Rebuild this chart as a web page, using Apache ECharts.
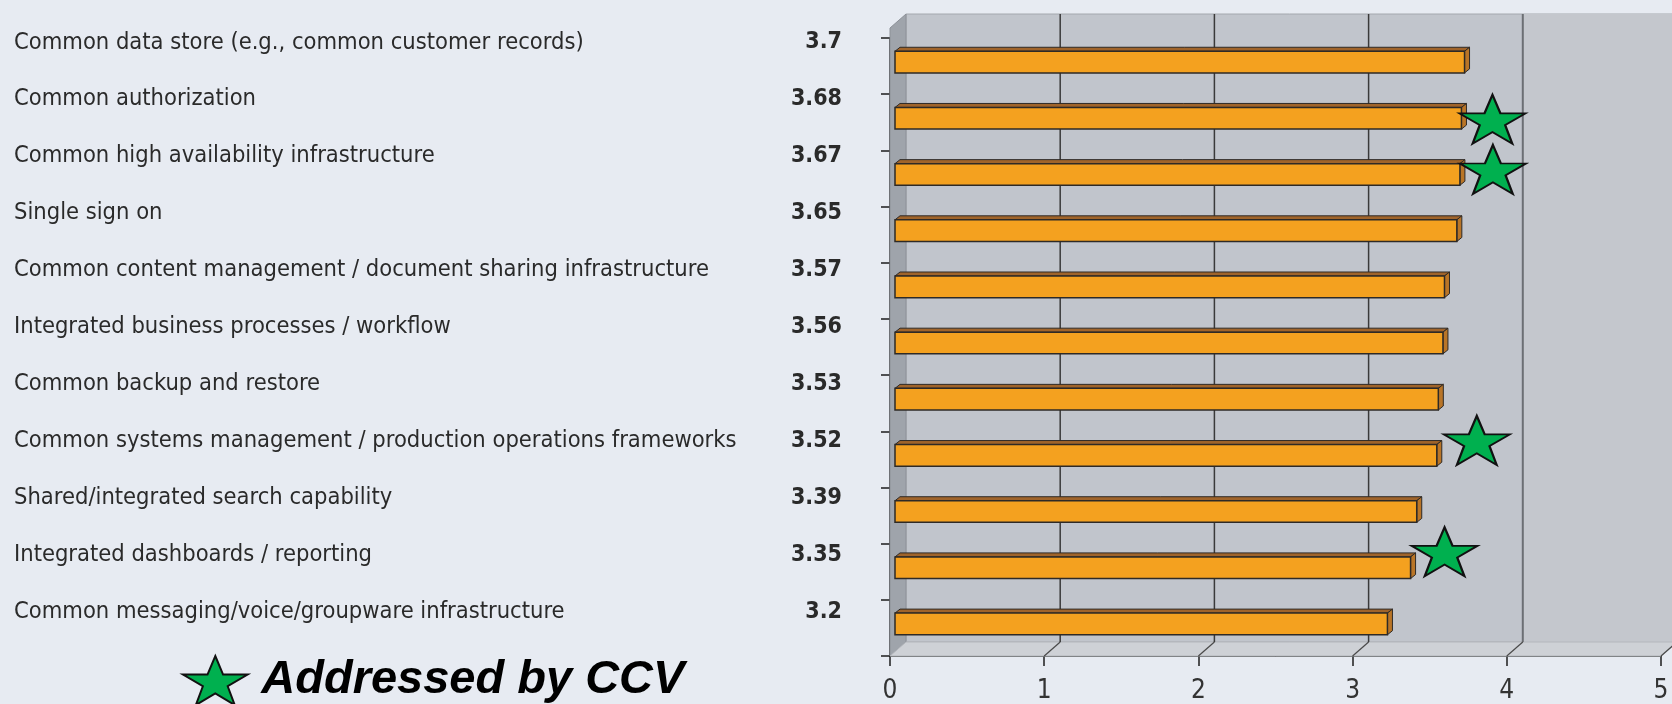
<!DOCTYPE html>
<html>
<head>
<meta charset="utf-8">
<script src="https://cdn.jsdelivr.net/npm/echarts@6/dist/echarts.min.js"></script>
<style>
html, body { margin: 0; padding: 0; background: #e7ebf2; }
#container { width: 1672px; height: 704px; }
</style>
</head>
<body>
<div id="container"></div>
<script>
var categories = [
    'Common data store (e.g., common customer records)',
    'Common authorization',
    'Common high availability infrastructure',
    'Single sign on',
    'Common content management / document sharing infrastructure',
    'Integrated business processes / workflow',
    'Common backup and restore',
    'Common systems management / production operations frameworks',
    'Shared/integrated search capability',
    'Integrated dashboards / reporting',
    'Common messaging/voice/groupware infrastructure'
];
var scores = [3.7, 3.68, 3.67, 3.65, 3.57, 3.56, 3.53, 3.52, 3.39, 3.35, 3.2];
var scoreLabels = ['3.7', '3.68', '3.67', '3.65', '3.57', '3.56', '3.53', '3.52', '3.39', '3.35', '3.2'];
var ccv = [false, true, true, false, false, false, false, true, false, true, false];
var xTicks = [0, 1, 2, 3, 4, 5];

// a slightly flattened five point star, like the one in the original
var STAR = 'path://M50,0 L61.8,28.1 L98.9,28.1 L68.8,45.8 L79.4,74.2 L50,56.6 L20.6,74.2 L31.2,45.8 L1.1,28.1 L38.2,28.1 Z';
var NARROW = "'DejaVu Sans Condensed', 'Liberation Sans Narrow', 'DejaVu Sans', sans-serif";

// small nudges so the stars sit where the original put them
var starNudge = [[35, -3], [37, -9], [44, -19], [38, -20]];

var charts = echarts.init(document.getElementById('container'), null, { renderer: 'canvas' });

var barData = scores.map(function (v, i) { return [v, i]; });
var starData = [];
scores.forEach(function (v, i) {
    if (ccv[i]) {
        starData.push({ value: [v, i], symbolOffset: starNudge[starData.length] });
    }
});

// 3D box behind the bars: back wall, left wall, floor, grid lines
function renderFrame(params, api) {
    var cs = params.coordSys;
    var dx = 16, dy = 14;
    var top = cs.y - 10, bottom = cs.y + cs.height;
    var xs = xTicks.map(function (t) { return api.coord([t, 0])[0]; });
    var x0 = xs[0], x5 = xs[xs.length - 1];
    var kids = [];
    kids.push({ type: 'rect', shape: { x: x0 + dx, y: top - dy, width: x5 - x0 + 40, height: bottom - top },
        style: { fill: '#c1c5cc', stroke: '#a4a8ae', lineWidth: 1 } });
    kids.push({ type: 'rect', shape: { x: xs[4] + dx, y: top - dy, width: x5 - xs[4] + 40, height: bottom - top },
        style: { fill: '#c4c7cd' } });
    kids.push({ type: 'polygon', shape: { points: [[x0, top], [x0 + dx, top - dy], [x0 + dx, bottom - dy], [x0, bottom]] },
        style: { fill: '#9fa4ab', stroke: '#8d9198', lineWidth: 1 } });
    kids.push({ type: 'polygon', shape: { points: [[x0, bottom], [x5, bottom], [x5 + dx, bottom - dy], [x0 + dx, bottom - dy]] },
        style: { fill: '#ced1d6', stroke: '#b4b7bc', lineWidth: 1 } });
    for (var k = 1; k < xs.length; k++) {
        var last = (k === 4);
        kids.push({ type: 'line', shape: { x1: xs[k] + dx, y1: top - dy, x2: xs[k] + dx, y2: bottom - dy },
            style: { stroke: last ? '#6c6f74' : '#3a3a3a', lineWidth: last ? 2 : 1.5 } });
        kids.push({ type: 'line', shape: { x1: xs[k], y1: bottom, x2: xs[k] + dx, y2: bottom - dy },
            style: { stroke: '#4a4a4a', lineWidth: 1.2 } });
    }
    return { type: 'group', children: kids };
}

function renderBar(params, api) {
    var v = api.value(0), i = api.value(1);
    var start = api.coord([0, i]);
    var end = api.coord([v, i]);
    var band = api.size([0, 1])[1];
    var h = band * 0.385;
    var cy = end[1] - 4;
    var x0 = start[0] + 5, x1 = end[0] + 4;
    var y0 = cy - h / 2, y1 = cy + h / 2;
    var d = 5, e = 4;
    var edge = '#2e2a26';
    return {
        type: 'group',
        children: [
            { type: 'polygon', shape: { points: [[x0, y0], [x1, y0], [x1 + d, y0 - e], [x0 + d, y0 - e]] },
                style: { fill: '#a0642a', stroke: edge, lineWidth: 1 } },
            { type: 'polygon', shape: { points: [[x1, y0], [x1 + d, y0 - e], [x1 + d, y1 - e], [x1, y1]] },
                style: { fill: '#b97527', stroke: edge, lineWidth: 1 } },
            { type: 'rect', shape: { x: x0, y: y0, width: x1 - x0, height: h },
                style: { fill: '#f4a11f', stroke: edge, lineWidth: 1.5 } }
        ]
    };
}

var option = {
    backgroundColor: '#e7ebf2',
    animation: false,
    grid: [
        { left: 890, right: 11, top: 38, bottom: 48 },
        { left: 14, top: 14, width: 876, height: 626 }
    ],
    xAxis: [
        {
            type: 'value', gridIndex: 0, min: 0, max: 5, interval: 1,
            axisLine: { show: true, lineStyle: { color: '#1e1e1e', width: 1.5 } },
            axisTick: { show: true, length: 10, lineStyle: { color: '#1e1e1e', width: 1.5 } },
            axisLabel: { margin: 22, fontFamily: NARROW, fontSize: 26, color: '#333' },
            splitLine: { show: false }
        },
        { type: 'value', gridIndex: 1, show: false }
    ],
    yAxis: [
        {
            type: 'category', gridIndex: 0, inverse: true, data: categories,
            axisLine: { show: true, lineStyle: { color: '#1e1e1e', width: 1.5 } },
            axisTick: { show: true, length: 9, lineStyle: { color: '#1e1e1e', width: 1.5 } },
            axisLabel: { show: false },
            splitLine: { show: false }
        },
        {
            type: 'category', gridIndex: 1, inverse: true, data: categories, position: 'left',
            axisLine: { show: false }, axisTick: { show: false },
            axisLabel: { inside: true, margin: 0, fontFamily: NARROW, fontSize: 23.5, color: '#2a2a2a' }
        },
        {
            type: 'category', gridIndex: 1, inverse: true, data: scoreLabels, position: 'right',
            axisLine: { show: false }, axisTick: { show: false },
            axisLabel: { inside: true, margin: 48, fontFamily: NARROW, fontWeight: 'bold', fontSize: 23, color: '#2a2a2a' }
        }
    ],
    legend: {
        data: [{ name: 'Addressed by CCV', icon: STAR }],
        left: 177, top: 650,
        itemWidth: 66, itemHeight: 49,
        selectedMode: false,
        textStyle: {
            fontFamily: "'Liberation Sans', Arial, sans-serif", fontWeight: 'bold', fontStyle: 'italic',
            fontSize: 47, color: '#000', padding: [0, 0, 0, 8]
        }
    },
    series: [
        {
            type: 'custom', name: 'frame', xAxisIndex: 0, yAxisIndex: 0, z: 1, silent: true,
            renderItem: renderFrame, data: [[0, 0]], clip: false
        },
        {
            type: 'custom', name: 'scores', xAxisIndex: 0, yAxisIndex: 0, z: 2, silent: true,
            renderItem: renderBar, encode: { x: 0, y: 1 }, data: barData
        },
        {
            type: 'scatter', name: 'Addressed by CCV', xAxisIndex: 0, yAxisIndex: 0, z: 3,
            symbol: STAR, symbolSize: [66, 49],
            itemStyle: { color: '#00b04f', borderColor: '#111', borderWidth: 2, opacity: 1 },
            data: starData
        }
    ]
};

charts.setOption(option, true);
</script>
</body>
</html>
